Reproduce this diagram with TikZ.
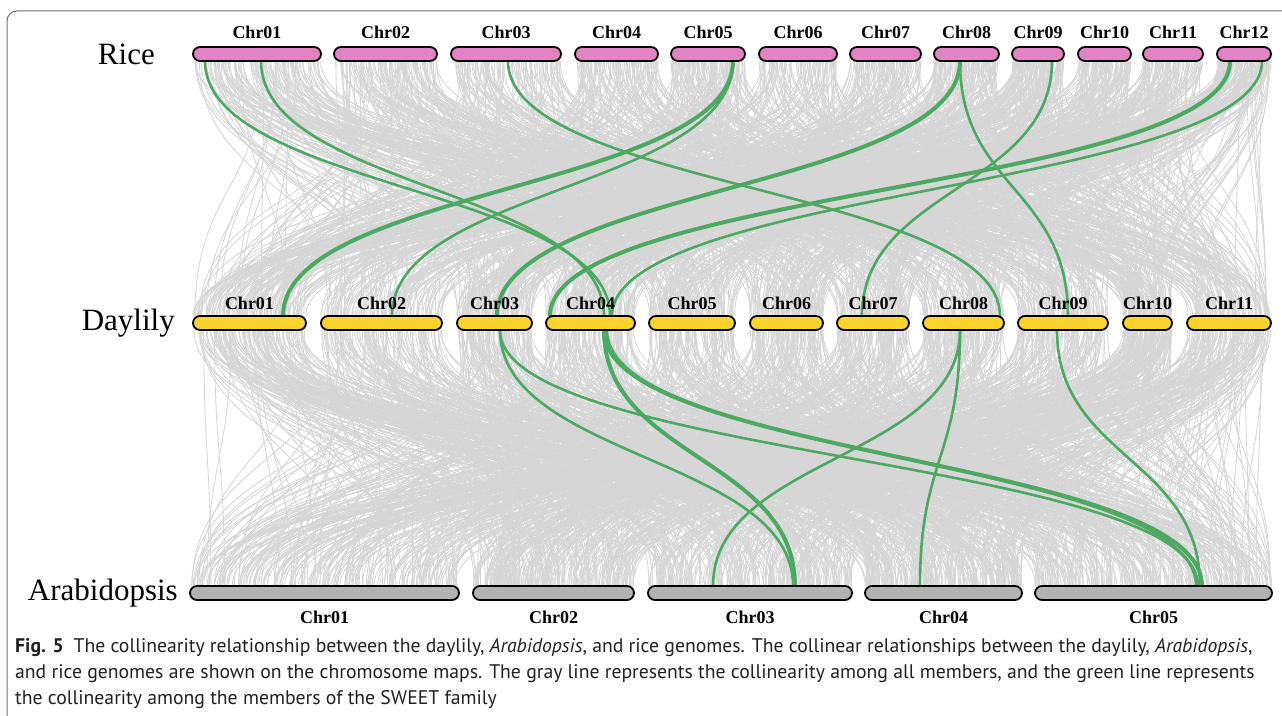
\documentclass[tikz,border=0pt]{standalone}
\usepackage{fontspec}
\setmainfont{Liberation Serif}
\newfontfamily\capfont{PT Sans}
\usetikzlibrary{positioning,calc}

\definecolor{ricepink}{RGB}{228,131,196}
\definecolor{lilyyellow}{RGB}{250,212,45}
\definecolor{arabgray}{RGB}{178,178,178}
\definecolor{synteny}{RGB}{77,168,97}
\definecolor{bgline}{RGB}{214,214,214}
\definecolor{framegray}{RGB}{110,110,110}
\definecolor{captext}{RGB}{35,31,32}

\pgfdeclarelayer{links}
\pgfsetlayers{links,main}

\begin{document}
\begin{tikzpicture}[x=1pt,y=1pt]
    \useasboundingbox (0,0) rectangle (1282,715);
    % Default looks for bars, labels and links
    \tikzset{chr/.style={draw=black, line width=1.8pt, rounded corners=7pt,
        minimum height=14pt, inner sep=0pt, outer sep=0pt},
      rchr/.style={chr, fill=ricepink},
      dchr/.style={chr, fill=lilyyellow},
      achr/.style={chr, fill=arabgray},
      chrlab/.style={font=\bfseries\fontsize{18}{20}\selectfont, inner sep=0pt},
      species/.style={font=\fontsize{31}{34}\selectfont, inner sep=0pt},
      grayline/.style={draw=bgline, line width=0.85pt},
      synline/.style={draw=synteny, line width=2.6pt},
      synthick/.style={draw=synteny, line width=4pt},
      captxt/.style={font=\capfont\fontsize{19.7}{26}\selectfont, text=captext, inner sep=0pt}}

    % Rice chromosomes
    \node[rchr, minimum width=128pt] (r1) at (257,661) {};
    \node[rchr, minimum width=103pt] (r2) [right=13pt of r1] {};
    \node[rchr, minimum width=110pt] (r3) [right=14pt of r2] {};
    \node[rchr, minimum width=83pt] (r4) [right=14pt of r3] {};
    \node[rchr, minimum width=74pt] (r5) [right=13pt of r4] {};
    \node[rchr, minimum width=78pt] (r6) [right=14pt of r5] {};
    \node[rchr, minimum width=71pt] (r7) [right=13pt of r6] {};
    \node[rchr, minimum width=65pt] (r8) [right=13pt of r7] {};
    \node[rchr, minimum width=52pt] (r9) [right=13pt of r8] {};
    \node[rchr, minimum width=53pt] (r10) [right=14pt of r9] {};
    \node[rchr, minimum width=60pt] (r11) [right=12pt of r10] {};
    \node[rchr, minimum width=54pt] (r12) [right=14pt of r11] {};
    \foreach \k/\t in {1/01,2/02,3/03,4/04,5/05,6/06,7/07,8/08,9/09,10/10,11/11,12/12}
      \node[chrlab] (lr\k) [above=8pt of r\k] {Chr\t};
    \node[species] (rice) [left=38pt of r1] {Rice};

    % Daylily chromosomes
    \node[dchr, minimum width=113pt] (d1) at (249.5,392) {};
    \node[dchr, minimum width=121pt] (d2) [right=15pt of d1] {};
    \node[dchr, minimum width=75pt] (d3) [right=15pt of d2] {};
    \node[dchr, minimum width=89pt] (d4) [right=14pt of d3] {};
    \node[dchr, minimum width=86pt] (d5) [right=14pt of d4] {};
    \node[dchr, minimum width=73pt] (d6) [right=15pt of d5] {};
    \node[dchr, minimum width=72pt] (d7) [right=14pt of d6] {};
    \node[dchr, minimum width=81pt] (d8) [right=14pt of d7] {};
    \node[dchr, minimum width=90pt] (d9) [right=14pt of d8] {};
    \node[dchr, minimum width=49pt] (d10) [right=15pt of d9] {};
    \node[dchr, minimum width=84pt] (d11) [right=15pt of d10] {};
    \foreach \k/\t in {1/01,2/02,3/03,4/04,5/05,6/06,7/07,8/08,9/09,10/10,11/11}
      \node[chrlab] (ld\k) [above=6pt of d\k] {Chr\t};
    \node[species] (daylily) [left=18pt of d1] {Daylily};

    % Arabidopsis chromosomes
    \node[achr, minimum width=269pt] (a1) at (324.5,122) {};
    \node[achr, minimum width=161pt] (a2) [right=14pt of a1] {};
    \node[achr, minimum width=204pt] (a3) [right=14pt of a2] {};
    \node[achr, minimum width=157pt] (a4) [right=13pt of a3] {};
    \node[achr, minimum width=237pt] (a5) [right=13pt of a4] {};
    \foreach \k/\t in {1/01,2/02,3/03,4/04,5/05}
      \node[chrlab] (la\k) [below=11pt of a\k] {Chr\t};
    \node[species] (arab) [left=12pt of a1] {Arabidopsis};

    \begin{pgfonlayer}{links}
    % all collinear pairs, rice to daylily
    \pgfmathsetseed{4242}
    \foreach \i in {1,...,1400}{
      \pgfmathtruncatemacro\ka{random(1,12)}
      \pgfmathtruncatemacro\kb{random(1,11)}
      \pgfmathsetmacro\fa{rnd}
      \pgfmathsetmacro\fb{rnd}
      \draw[grayline] ($(r\ka.south west)!\fa!(r\ka.south east)$)
        .. controls +(0,-127) and +(0,127) .. ($(d\kb.north west)!\fb!(d\kb.north east)$);
    }
    % all collinear pairs, daylily to arabidopsis
    \foreach \i in {1,...,1400}{
      \pgfmathtruncatemacro\ka{random(1,11)}
      \pgfmathtruncatemacro\kb{random(1,5)}
      \pgfmathsetmacro\fa{rnd}
      \pgfmathsetmacro\fb{rnd}
      \draw[grayline] ($(d\ka.south west)!\fa!(d\ka.south east)$)
        .. controls +(0,-128) and +(0,128) .. ($(a\kb.north west)!\fb!(a\kb.north east)$);
    }

    % SWEET pairs, rice to daylily
    \draw[synline] ([xshift=12pt]r1.south west) .. controls +(0,-127) and +(0,127) .. ([xshift=64pt]d4.north west);
    \draw[synline] ([xshift=68pt]r1.south west) .. controls +(0,-127) and +(0,127) .. ([xshift=58pt]d4.north west);
    \draw[synline] ([xshift=57pt]r3.south west) .. controls +(0,-127) and +(0,127) .. ([xshift=77pt]d8.north west);
    \draw[synthick] ([xshift=62pt]r5.south west) .. controls +(0,-127) and +(0,127) .. ([xshift=90pt]d1.north west);
    \draw[synline] ([xshift=62pt]r5.south west) .. controls +(0,-127) and +(0,127) .. ([xshift=71pt]d2.north west);
    \draw[synthick] ([xshift=26pt]r8.south west) .. controls +(0,-127) and +(0,127) .. ([xshift=40pt]d3.north west);
    \draw[synline] ([xshift=26pt]r8.south west) .. controls +(0,-127) and +(0,127) .. ([xshift=50pt]d9.north west);
    \draw[synline] ([xshift=40pt]r9.south west) .. controls +(0,-127) and +(0,127) .. ([xshift=25pt]d7.north west);
    \draw[synthick] ([xshift=13pt]r12.south west) .. controls +(0,-127) and +(0,127) .. ([xshift=4pt]d4.north west);
    \draw[synline] ([xshift=45pt]r12.south west) .. controls +(0,-127) and +(0,127) .. ([xshift=66pt]d4.north west);

    % SWEET pairs, daylily to arabidopsis
    \draw[synline] ([xshift=43pt]d3.south west) .. controls +(0,-128) and +(0,128) .. ([xshift=145pt]a3.north west);
    \draw[synline] ([xshift=43pt]d3.south west) .. controls +(0,-128) and +(0,128) .. ([xshift=163pt]a5.north west);
    \draw[synthick] ([xshift=58pt]d4.south west) .. controls +(0,-128) and +(0,128) .. ([xshift=147pt]a3.north west);
    \draw[synthick] ([xshift=58pt]d4.south west) .. controls +(0,-128) and +(0,128) .. ([xshift=167pt]a5.north west);
    \draw[synline] ([xshift=61pt]d4.south west) .. controls +(0,-128) and +(0,128) .. ([xshift=161pt]a5.north west);
    \draw[synline] ([xshift=37pt]d8.south west) .. controls +(0,-128) and +(0,128) .. ([xshift=65pt]a3.north west);
    \draw[synline] ([xshift=37pt]d8.south west) .. controls +(0,-128) and +(0,128) .. ([xshift=55pt]a4.north west);
    \draw[synline] ([xshift=39pt]d9.south west) .. controls +(0,-128) and +(0,128) .. ([xshift=165pt]a5.north west);
    \end{pgfonlayer}

    % frame and caption
    \draw[framegray, line width=1pt, rounded corners=10pt] (1300,704) -- (7,704) -- (7,-30);
    \node[captxt, anchor=base west] (cap1) at (15,63)
      {\textbf{Fig. 5}\enspace The collinearity relationship between the daylily, \textit{Arabidopsis}, and rice genomes. The collinear relationships between the daylily, \textit{Arabidopsis},};
    \node[captxt, anchor=base west] (cap2) at ([yshift=-26pt]cap1.base west)
      {and rice genomes are shown on the chromosome maps. The gray line represents the collinearity among all members, and the green line represents};
    \node[captxt, anchor=base west] (cap3) at ([yshift=-26pt]cap2.base west)
      {the collinearity among the members of the SWEET family};
\end{tikzpicture}
\end{document}
